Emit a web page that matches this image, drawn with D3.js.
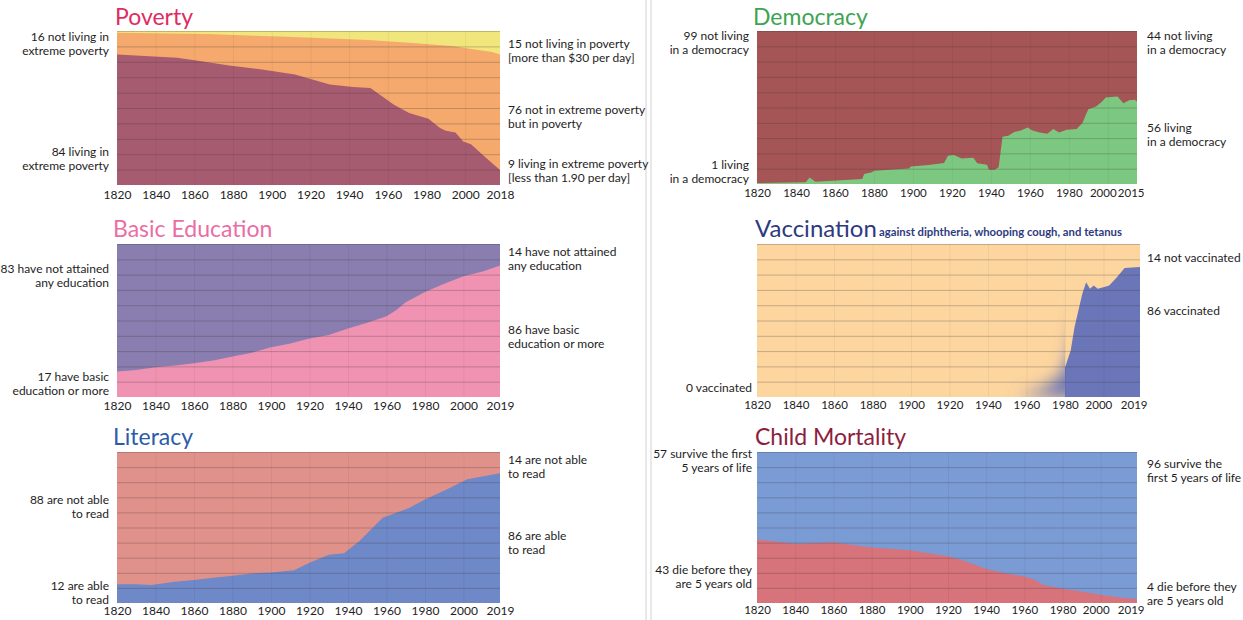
<!DOCTYPE html>
<html><head><meta charset="utf-8">
<script src="https://cdn.jsdelivr.net/npm/d3@7"></script>
<style>
body{margin:0;background:#fff}
svg{display:block}
text{font-family:Lato,"Open Sans",sans-serif}
</style>
</head><body>
<svg id="chart" width="1243" height="620"></svg>
<script>
// ---------------- DATA ----------------
const tickYears = [1820,1840,1860,1880,1900,1920,1940,1960,1980,2000];

const povertyYears        = [1820,1851,1861,1878,1895,1912,1921,1930,1942,1951,1963,1971,1981,1987,1990,1995,1999,2003,2010,2015,2018];
const extremePovertyShare = [84.8,82.6,80.9,77.6,75,71.7,68.5,65.2,63.7,63,52.2,46.7,43,37,35.2,34.1,28.3,26.5,18.5,13,9.8];
const povertyLineYears    = [1820,1866,1908,1950,1971,1993,2005,2014,2018];
const notInPovertyShare   = [1.1,2,3.7,5.9,7.6,9.8,12,13.7,15.2];

const educationYears      = [1820,1830,1840,1850,1860,1870,1880,1890,1900,1910,1920,1930,1940,1950,1960,1965,1970,1980,1990,2000,2010,2019];
const basicEducationShare = [16.7,17.7,19.5,20.6,22,23.8,26.4,29,32.5,35,38.3,40.5,44.8,48.5,52.8,56.7,62,68.6,74,79,82,86];

const literacyYears  = [1820,1830,1838,1850,1860,1870,1880,1890,1900,1912,1920,1930,1938,1946,1958,1972,1980,1991,2002,2019];
const literateShare  = [12.4,12.4,12,14,15.2,16.7,18,19.6,20.2,21.7,26.7,32,33,41,56.5,63,68.5,75,82,86];

const democracyYears = [1820,1845,1847,1848,1850,1874,1875,1879,1880,1898,1899,1908,1916,1918,1921,1925,1931,1933,1938,1939,1942,1944,1946,1949,1952,1955,1959,1961,1965,1969,1972,1975,1979,1984,1987,1990,1994,1997,1999,2005,2008,2011,2014,2015];
const democracyShare = [0.6,1.1,4.3,3.3,1.5,3.3,6.5,7.6,8.7,10.2,11.5,12.4,13.7,18.5,19,16.7,17.2,13.5,12.6,9.3,9.3,10.9,30.9,31.5,34,34.8,37,35.2,33.7,32.8,35.9,33.7,35.4,35.9,39.8,48.9,50.7,53.7,56.5,57.2,52.8,54.8,55,53.7];

const vaccinationYears = [1955,1969,1979,1981,1983,1985,1987,1989,1991,1993,1995,1997,2000,2003,2007,2011,2019];
const vaccinatedShare  = [0,5.4,15.2,22.8,30.4,45.7,56.5,67.4,75,70.7,72.8,70.7,71.7,72.8,78.3,84.3,85];

const mortalityYears   = [1820,1840,1860,1870,1880,1900,1910,1920,1930,1940,1950,1960,1965,1970,1980,1990,2000,2010,2019];
const childDeathShare  = [42,39.3,40,38.4,36.7,35,33,31,27.3,22.5,19.7,17.5,15.7,12,9.4,7.6,5.5,3.7,2.6];

const titles = ["Poverty","Basic Education","Literacy","Democracy","Vaccination","Child Mortality"];
const vaccinationSubtitle = "against diphtheria, whooping cough, and tetanus";

const povertyLeft  = [["16 not living in","extreme poverty"],["84 living in","extreme poverty"]];
const povertyRight = [["15 not living in poverty","[more than $30 per day]"],["76 not in extreme poverty","but in poverty"],["9 living in extreme poverty","[less than 1.90 per day]"]];
const educationLeft  = [["83 have not attained","any education"],["17 have basic","education or more"]];
const educationRight = [["14 have not attained","any education"],["86 have basic","education or more"]];
const literacyLeft  = [["88 are not able","to read"],["12 are able","to read"]];
const literacyRight = [["14 are not able","to read"],["86 are able","to read"]];
const democracyLeft  = [["99 not living","in a democracy"],["1 living","in a democracy"]];
const democracyRight = [["44 not living","in a democracy"],["56 living","in a democracy"]];
const vaccinationLeft  = [["0 vaccinated"]];
const vaccinationRight = [["14 not vaccinated"],["86 vaccinated"]];
const mortalityLeft  = [["57 survive the first","5 years of life"],["43 die before they","are 5 years old"]];
const mortalityRight = [["96 survive the","first 5 years of life"],["4 die before they","are 5 years old"]];

// ---------------- DRAW ----------------
const svg = d3.select("#chart");
const defs = svg.append("defs");
defs.append("filter").attr("id","blur").attr("x","-30%").attr("y","-30%").attr("width","160%").attr("height","160%")
  .append("feGaussianBlur").attr("stdDeviation",8);

// divider
[646,651].forEach(xv => svg.append("line").attr("x1",xv).attr("x2",xv).attr("y1",0).attr("y2",620)
  .attr("stroke","#dcdcdc").attr("stroke-width",1.3));

function zip(a,b){ return a.map((v,i)=>[v,b[i]]); }

let clipId = 0;
function panel(p){
  const g = svg.append("g");
  const x = d3.scaleLinear().domain([1820,p.end]).range([p.x0,p.x1]);
  const y = d3.scaleLinear().domain([0,100]).range([p.y1,p.y0]);
  const cid = "clip"+(clipId++);
  defs.append("clipPath").attr("id",cid).append("rect")
    .attr("x",p.x0).attr("y",p.y0).attr("width",p.x1-p.x0).attr("height",p.y1-p.y0);
  const body = g.append("g").attr("clip-path",`url(#${cid})`);
  body.append("rect").attr("x",p.x0).attr("y",p.y0).attr("width",p.x1-p.x0).attr("height",p.y1-p.y0).attr("fill",p.bg);
  p.layers.forEach(L=>{
    const area = d3.area().x(d=>x(d[0])).y0(y(0)).y1(d=>y(d[1])).curve(d3.curveLinear);
    if(L.fade){
      const cutoff = x(L.fade);
      const c1 = "clip"+(clipId++), c2 = "clip"+(clipId++);
      defs.append("clipPath").attr("id",c1).append("rect").attr("x",p.x0).attr("y",p.y0).attr("width",cutoff-p.x0).attr("height",p.y1-p.y0);
      defs.append("clipPath").attr("id",c2).append("rect").attr("x",cutoff).attr("y",p.y0).attr("width",p.x1-cutoff).attr("height",p.y1-p.y0);
      body.append("g").attr("clip-path",`url(#${c1})`).append("path").attr("d",area(L.data)).attr("fill",L.color).attr("filter","url(#blur)");
      body.append("g").attr("clip-path",`url(#${c2})`).append("path").attr("d",area(L.data)).attr("fill",L.color);
    } else {
      body.append("path").attr("d",area(L.data)).attr("fill",L.color);
    }
  });
  // vertical faint grid
  const vg = body.append("g").attr("transform",`translate(0,${p.y1})`)
    .call(d3.axisBottom(x).tickValues(tickYears.slice(1)).tickSize(-(p.y1-p.y0)).tickFormat(""));
  vg.select(".domain").remove();
  vg.selectAll("line").attr("stroke","#000").attr("stroke-opacity",0.05);
  // horizontal grid
  const hg = g.append("g").attr("transform",`translate(${p.x0},0)`)
    .call(d3.axisLeft(y).tickValues([10,20,30,40,50,60,70,80,90,100]).tickSize(-(p.x1-p.x0)).tickFormat(""));
  hg.select(".domain").remove();
  hg.selectAll("line").attr("stroke","#3a3a3a").attr("stroke-opacity",0.28);
  // x axis labels
  const ax = g.append("g").attr("transform",`translate(0,${p.y1})`)
    .call(d3.axisBottom(x).tickValues([...tickYears,p.end]).tickSize(0).tickPadding(p.pad).tickFormat(d3.format("d")));
  ax.select(".domain").remove();
  ax.selectAll("text").attr("font-size",p.endAnchor?11.5:12).attr("fill","#222").style("font-family","Lato, sans-serif");
  if(p.endAnchor){
    ax.selectAll(".tick").filter(d=>d===p.end).select("text").attr("text-anchor","end").attr("x",7);
    ax.selectAll(".tick").filter(d=>d===2000).select("text").attr("x",-5);
  }
  // title
  g.append("text").attr("x",p.tx).attr("y",p.ty).attr("font-size",p.ts||23).attr("fill",p.tc).text(p.title);
  if(p.subtitle){
    g.append("text").attr("x",p.sx).attr("y",p.ty-1).attr("font-size",11.3).attr("font-weight",700)
      .attr("fill",p.tc).text(p.subtitle);
  }
  // labels
  function labels(list, ys, xpos, anchor){
    list.forEach((lines,i)=>{
      const n = lines.length;
      lines.forEach((s,j)=>{
        g.append("text").attr("x",xpos).attr("y",ys[i] + (j-(n-1)/2)*14 + 4)
          .attr("text-anchor",anchor).attr("font-size",12).attr("fill","#1e1e1e").text(s);
      });
    });
  }
  labels(p.left, p.leftY, p.lx, "end");
  labels(p.right, p.rightY, p.rx, "start");
}

panel({title:titles[0], tc:"#dd2c5f", tx:115, ty:25, x0:117, x1:500, y0:31, y1:185, pad:5, end:2018, bg:"#f1e67c",
  layers:[{data:zip(povertyLineYears, notInPovertyShare.map(v=>100-v)), color:"#f5a96c"},
          {data:zip(povertyYears, extremePovertyShare), color:"#a65b70"}],
  left:povertyLeft, leftY:[44,159], lx:109, right:povertyRight, rightY:[51,117,171], rx:508});

panel({title:titles[1], tc:"#ea6ea3", tx:113, ty:237, x0:117, x1:500, y0:244, y1:397, pad:4, end:2019, bg:"#8a7daf",
  layers:[{data:zip(educationYears, basicEducationShare), color:"#f092b1"}],
  left:educationLeft, leftY:[276,384], lx:109, right:educationRight, rightY:[259,337], rx:508});

panel({title:titles[2], tc:"#2c5ca8", tx:113, ty:445, x0:117, x1:500, y0:452, y1:603, pad:3, end:2019, bg:"#e0928a",
  layers:[{data:zip(literacyYears, literateShare), color:"#6f88c7"}],
  left:literacyLeft, leftY:[507,593], lx:109, right:literacyRight, rightY:[467,543], rx:508});

panel({title:titles[3], tc:"#3da452", tx:753, ty:25, x0:757, x1:1137, y0:31, y1:184, pad:5, end:2015, bg:"#a65556", endAnchor:true,
  layers:[{data:zip(democracyYears, democracyShare), color:"#7dc880"}],
  left:democracyLeft, leftY:[43,172], lx:749, right:democracyRight, rightY:[43,135], rx:1147});

panel({title:titles[4], subtitle:vaccinationSubtitle, sx:879, ts:24, tc:"#2f3a7e", tx:755, ty:237, x0:757, x1:1140, y0:244, y1:397, pad:4, end:2019, bg:"#fdd59f", endAnchor:true,
  layers:[{data:zip(vaccinationYears, vaccinatedShare), color:"#6a76b7", fade:1980}],
  left:vaccinationLeft, leftY:[388], lx:752, right:vaccinationRight, rightY:[258,311], rx:1147});

panel({title:titles[5], tc:"#8c1e3e", tx:755, ty:445, x0:757, x1:1137, y0:452, y1:603, pad:3, end:2019, bg:"#7b9bd5", endAnchor:true,
  layers:[{data:zip(mortalityYears, childDeathShare), color:"#d7737a"}],
  left:mortalityLeft, leftY:[461,577], lx:752, right:mortalityRight, rightY:[471,594], rx:1147});
</script>
</body></html>
